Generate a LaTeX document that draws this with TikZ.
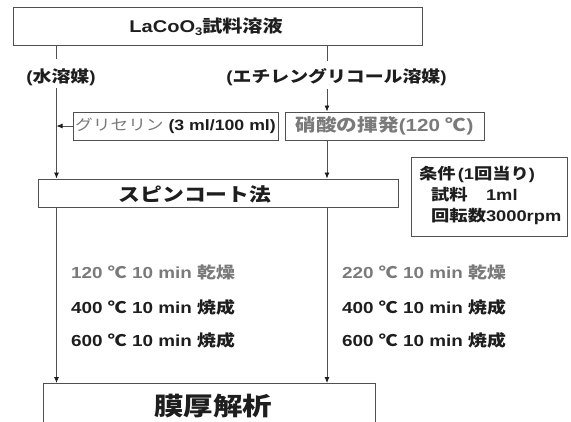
\documentclass[tikz,border=0pt]{standalone}
\usepackage{fontspec}
\setmainfont{Liberation Sans}[FakeStretch=1.18]
\newfontfamily\jp{Noto Sans CJK JP}[FakeStretch=1.18]
\usetikzlibrary{arrows.meta}
\definecolor{lncol}{HTML}{505050}
\definecolor{txcol}{HTML}{1E1E1E}
\definecolor{grcol}{HTML}{7A7A7A}
\newcommand\J[1]{{\jp #1}}
\newcommand\fs[1]{\fontsize{#1}{#1}\selectfont}
\tikzset{
  box/.style={draw=lncol, line width=0.9pt, inner sep=0pt, fill=white},
  conn/.style={draw=lncol, line width=0.8pt},
  conna/.style={conn, arrows={-Latex[length=6pt,width=5pt,color=txcol]}},
  lab/.style={font=\bfseries\fs{16}, text=txcol, inner sep=0pt},
  row/.style={font=\bfseries\fs{16}, text=txcol, inner sep=0pt, anchor=west},
}
\begin{document}
\begin{tikzpicture}[x=1pt,y=-1pt]
\useasboundingbox (0,0) rectangle (571,421);
\clip (0,0) rectangle (571,421);
% top box
\node[box, minimum width=409pt, minimum height=38pt] (top) at (217.5,26) {};
\node[font=\bfseries\fs{17}, text=txcol, inner sep=0pt] (toptext) at (206,27)
  {LaCoO\raisebox{-0.35ex}{\fs{11}3}\J{試料溶液}};
% branch labels
\node[lab] (wl) at (61,77) {(\J{水溶媒})};
\node[lab] (el) at (336.5,77) {(\J{エチレングリコール溶媒})};
\coordinate (l1) at (56.5,59);
\coordinate (l2) at (56.5,88);
\coordinate (r1) at (327,61);
\coordinate (r2) at (327,89);
% middle boxes
\node[box, minimum width=205pt, minimum height=28pt, font=\fs{15}, text=txcol] (gly) at (175.5,126)
  {\textcolor{grcol}{\J{グリセリン}} \textbf{(3 ml/100 ml)}};
\node[box, minimum width=199pt, minimum height=28pt, font=\bfseries\fs{17.5}, text=grcol] (nit) at (384.5,126)
  {\J{硝酸の揮発}(120 \J{℃})};
% spin coat
\node[box, minimum width=360pt, minimum height=28pt] (spin) at (218,193) {};
\node[font=\bfseries\fs{18.5}, text=txcol, inner sep=0pt] (spintext) at (195,194) {\J{スピンコート法}};
% condition box
\node[box, minimum width=156pt, minimum height=79pt, anchor=north west] (cond) at (411,157) {};
\node[row, font=\bfseries\fs{15.5}] (c1) at (419,174) {\J{条件}\kern2pt(1\J{回当り})};
\node[row, font=\bfseries\fs{15.5}] (c2) at (431,195) {\J{試料}\J{　}1ml};
\node[row, font=\bfseries\fs{15.5}] (c3) at (431,216) {\J{回転数}3000rpm};
% process rows
\node[row, text=grcol] (a1) at (71,272) {120 \J{℃} 10 min \J{乾燥}};
\node[row] (a2) at (71,307) {400 \J{℃} 10 min \J{焼成}};
\node[row] (a3) at (71,340) {600 \J{℃} 10 min \J{焼成}};
\node[row, text=grcol] (b1) at (342,272) {220 \J{℃} 10 min \J{乾燥}};
\node[row] (b2) at (342,307) {400 \J{℃} 10 min \J{焼成}};
\node[row] (b3) at (342,340) {600 \J{℃} 10 min \J{焼成}};
% bottom box
\node[box, minimum width=332pt, minimum height=70pt, anchor=north west] (bot) at (43,383) {};
\node[font=\bfseries\fs{25}, text=txcol, inner sep=0pt] (bottext) at (213,406) {\J{膜厚解析}};
% connectors
\draw[conn] (top.south -| l1) -- (l1);
\draw[conna] (l2) -- (l2 |- spin.north);
\draw[conn] (top.south -| r1) -- (r1);
\draw[conna] (r2) -- (r2 |- nit.north);
\draw[conna] (gly.west) -- (gly.west -| l1);
\draw[conna] (nit.south -| r2) -- (r2 |- spin.north);
\draw[conna] (spin.south -| l1) -- (l1 |- bot.north);
\draw[conna] (spin.south -| r1) -- (r1 |- bot.north);
\end{tikzpicture}
\end{document}
